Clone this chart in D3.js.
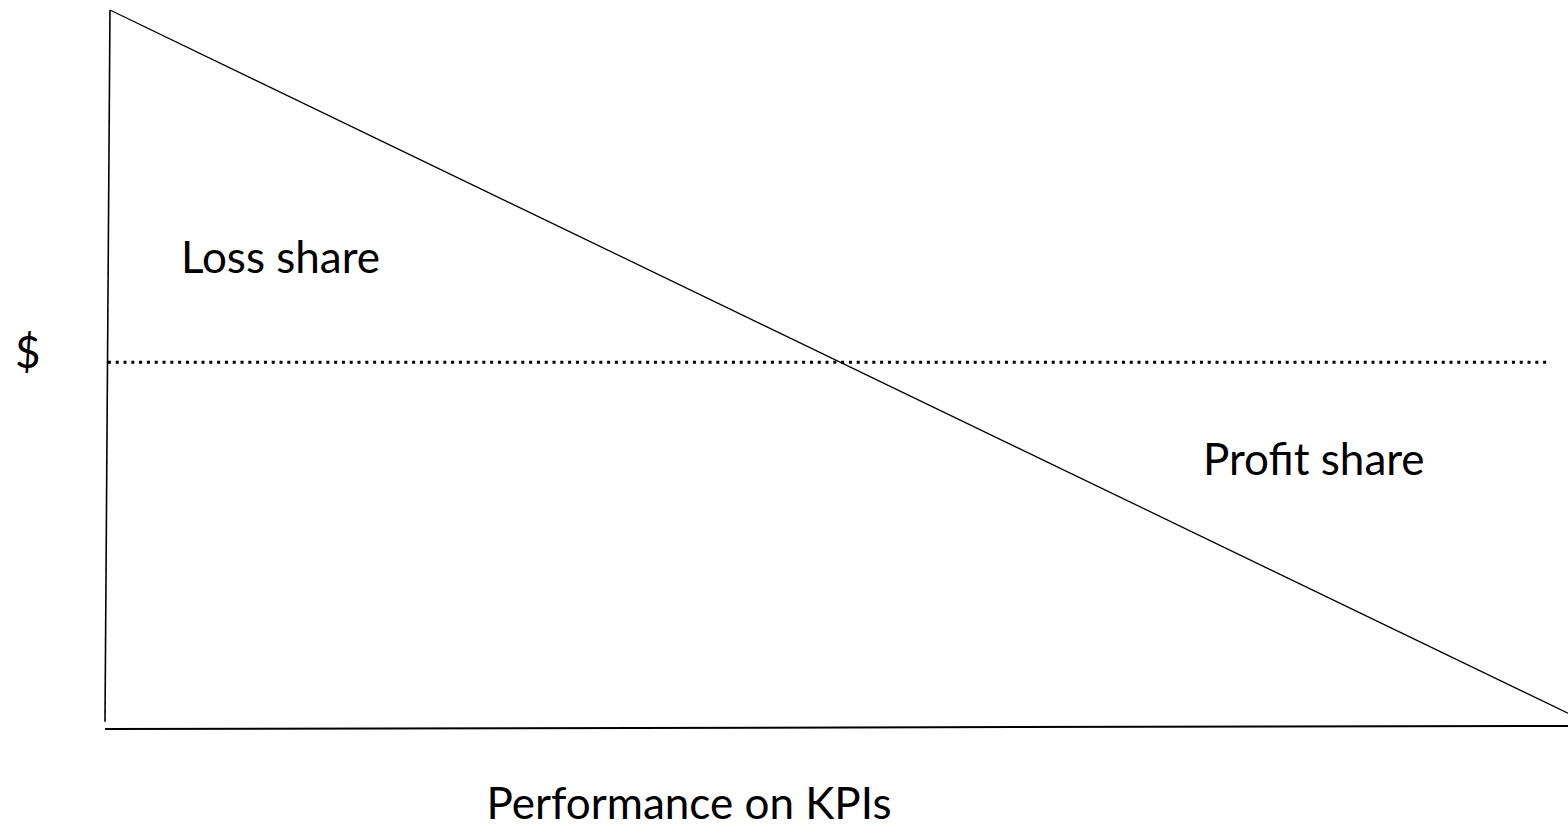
<!DOCTYPE html>
<html lang="en">
<head>
    <meta charset="UTF-8">
    <script src="https://d3js.org/d3.v7.min.js"></script>
    <title>Loss share / Profit share</title>
    <style>
        body { margin: 0; background: #fff; }
        text { font-family: Lato, "Open Sans", sans-serif; fill: #000; }
    </style>
</head>
<body>
    <div id="chart"></div>
    <script>
        // data (0-100 on both axes)
        const payoutLine = [[0.34, 100], [100, 2.2]];
        const breakEven = [[0.2, 51.0], [98.6, 51.0]];
        const yAxisLine = [[0.34, 100], [0, 1.0]];
        const xAxisLine = [[0, 0], [100, 0.42]];
        const regionLabels = ["Loss share", "Profit share"];
        const xTitle = "Performance on KPIs";
        const yTitle = "$";

        const width = 1568, height = 828;
        const fontSize = 44;

        const svg = d3.select("#chart")
            .append("svg")
            .attr("width", width)
            .attr("height", height);

        const x = d3.scaleLinear().domain([0, 100]).range([105, 1568]);
        const y = d3.scaleLinear().domain([0, 100]).range([729, 10]);

        const line = d3.line()
            .x(d => x(d[0]))
            .y(d => y(d[1]));

        // axes lines
        svg.append("path")
            .datum(yAxisLine)
            .attr("d", line)
            .attr("stroke", "#000")
            .attr("stroke-width", 1.6)
            .attr("fill", "none");

        svg.append("path")
            .datum(xAxisLine)
            .attr("d", line)
            .attr("stroke", "#000")
            .attr("stroke-width", 2)
            .attr("fill", "none");

        // break-even dotted line
        svg.append("path")
            .datum(breakEven)
            .attr("d", line)
            .attr("stroke", "#000")
            .attr("stroke-width", 3)
            .attr("stroke-dasharray", "3,4.8")
            .attr("fill", "none");

        // payout slope
        svg.append("path")
            .datum(payoutLine)
            .attr("d", line)
            .attr("stroke", "#000")
            .attr("stroke-width", 1.3)
            .attr("fill", "none");

        // labels
        svg.append("text")
            .attr("x", x(5.19))
            .attr("y", y(63.42))
            .attr("font-size", fontSize)
            .text(regionLabels[0]);

        svg.append("text")
            .attr("x", x(75.05))
            .attr("y", y(35.33))
            .attr("font-size", fontSize)
            .text(regionLabels[1]);

        svg.append("text")
            .attr("x", 15)
            .attr("y", y(51.0) + 6)
            .attr("font-size", fontSize)
            .text(yTitle);

        svg.append("text")
            .attr("x", x(39.92))
            .attr("y", 819)
            .attr("text-anchor", "middle")
            .attr("font-size", fontSize)
            .text(xTitle);
    </script>
</body>
</html>
